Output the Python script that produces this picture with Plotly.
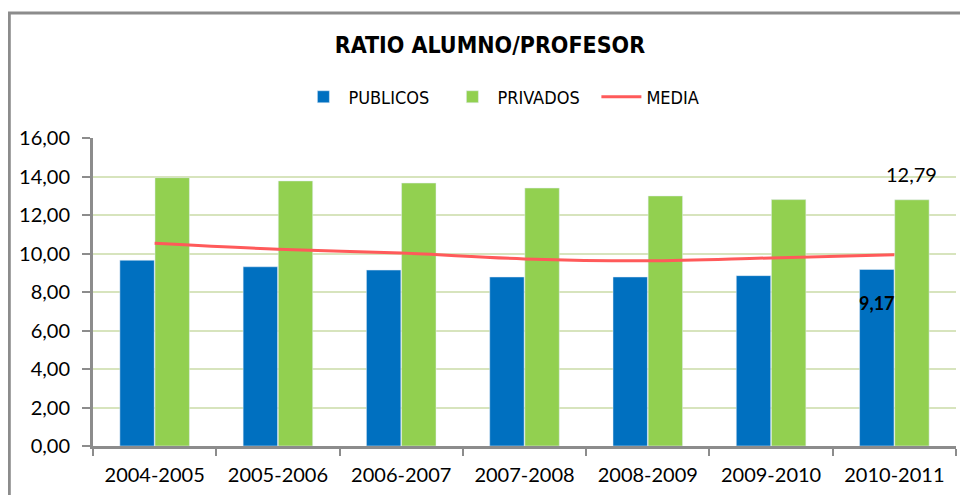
import plotly.graph_objects as go

cursos = ["2004-2005", "2005-2006", "2006-2007", "2007-2008", "2008-2009", "2009-2010", "2010-2011"]
publicos = [9.65, 9.31, 9.14, 8.78, 8.78, 8.85, 9.17]
privados = [13.94, 13.77, 13.66, 13.40, 12.99, 12.80, 12.79]
media = [10.53, 10.22, 10.02, 9.72, 9.62, 9.77, 9.93]

fnt = "Lato, Open Sans, sans-serif"
fnt_n = "Liberation Sans Narrow, DejaVu Sans Condensed, sans-serif"

fig = go.Figure()
fig.add_trace(go.Bar(x=cursos, y=publicos, name="PUBLICOS", marker_color="#0070c0"))
fig.add_trace(go.Bar(x=cursos, y=privados, name="PRIVADOS", marker_color="#92d050"))
fig.add_trace(go.Scatter(x=cursos, y=media, name="MEDIA", mode="lines",
                         line=dict(color="#ff5a5a", width=3, shape="spline")))

# etiquetas de la ultima temporada
fig.add_annotation(x=cursos[-1], y=privados[-1], text="12,79", showarrow=False,
                   xshift=17, yshift=12, yanchor="bottom",
                   font=dict(family=fnt, size=20, color="black"))
fig.add_annotation(x=cursos[-1], y=publicos[-1], text="<b>9,17</b>", showarrow=False,
                   xshift=-17, yshift=-34, font=dict(family=fnt, size=18, color="black"))

# marco exterior
fig.add_shape(type="rect", xref="paper", yref="paper", x0=-0.097, x1=1.05, y0=-0.3, y1=1.406,
              line=dict(color="#8c8c8c", width=3), fillcolor="rgba(0,0,0,0)", layer="below")

# la pagina tiene 8px de margen: figura de 960x487
fig.update_layout(
    width=960, height=487,
    margin=dict(l=85, r=12, t=130, b=49),
    paper_bgcolor="white", plot_bgcolor="white",
    separators=",.",
    barmode="group", bargap=0.43, bargroupgap=0.02,
    title=dict(text="<b>RATIO ALUMNO/PROFESOR</b>", x=0.502, xanchor="center",
               y=0.924, yanchor="middle", font=dict(family=fnt_n, size=23, color="black")),
    legend=dict(orientation="h", x=0.238, xanchor="left", y=1.133, yanchor="middle",
                font=dict(family=fnt_n, size=18, color="black"), itemwidth=40,
                entrywidth=94, entrywidthmode="pixels"),
    font=dict(family=fnt, size=20, color="black"),
    showlegend=True,
)
fig.update_yaxes(range=[0, 16], dtick=2, tickformat=".2f", showline=True, linecolor="#8c8c8c",
                 linewidth=3, ticks="outside", tickcolor="#8c8c8c", ticklen=8, tickwidth=2,
                 ticklabelstandoff=8, gridcolor="#d7e4bd", gridwidth=2, zeroline=False,
                 automargin=False)
fig.update_xaxes(showline=True, linecolor="#8c8c8c", linewidth=3, ticks="outside",
                 tickson="boundaries", tickcolor="#8c8c8c", ticklen=7, tickwidth=2,
                 ticklabelstandoff=9, automargin=False)

fig.write_html("out.html")
